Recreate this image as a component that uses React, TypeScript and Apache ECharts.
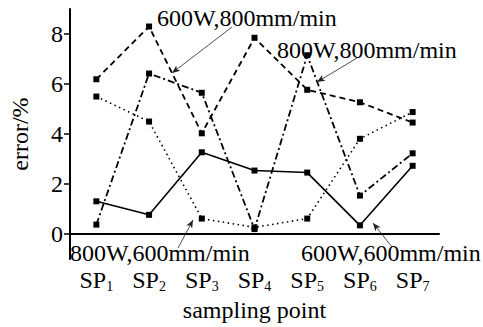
import React, { useEffect, useRef } from 'react';
import * as echarts from 'echarts';

const categories = ['1', '2', '3', '4', '5', '6', '7'];
const s600W800 = [6.19, 8.3, 4.03, 7.85, 5.77, 5.27, 4.46];
const s800W800 = [0.38, 6.42, 5.65, 0.2, 7.15, 1.54, 3.23];
const s800W600 = [5.5, 4.5, 0.62, 0.27, 0.62, 3.81, 4.88];
const s600W600 = [1.31, 0.77, 3.27, 2.54, 2.46, 0.35, 2.73];
const yTicks = [0, 2, 4, 6, 8];
const labels = ['600W,800mm/min', '800W,800mm/min', '800W,600mm/min', '600W,600mm/min'];

const FONT = 'Liberation Serif';
const FS = 24;

export default function App() {
  const ref = useRef<HTMLDivElement>(null);
  useEffect(() => {
    const chart = echarts.init(ref.current!, null, { renderer: 'svg' });
    const mk = (name: string, data: number[], type: any, width: number) => ({
      name,
      type: 'line',
      data,
      symbol: 'rect',
      symbolSize: 6,
      itemStyle: { color: '#000' },
      lineStyle: { color: '#000', width, type },
      emphasis: { disabled: true },
      silent: true,
    });
    const s1: any = mk(labels[0], s600W800, [6, 4], 1.8);
    s1.markLine = {
      silent: true,
      symbol: ['none', 'arrow'],
      symbolSize: [5, 8],
      label: { show: false },
      lineStyle: { type: 'solid', width: 0.8, color: '#222' },
      data: [
        [{ x: 232, y: 27 }, { x: 172, y: 73 }],
        [{ x: 357, y: 58 }, { x: 317, y: 82 }],
        [{ x: 178, y: 248 }, { x: 193, y: 220 }],
        [{ x: 392, y: 247 }, { x: 373, y: 223 }],
      ],
    };
    const textEl = (x: number, y: number, t: string) => ({
      type: 'text',
      x,
      y,
      silent: true,
      style: { text: t, fontFamily: FONT, fontSize: FS, fill: '#000', verticalAlign: 'middle', align: 'left' },
    });
    chart.setOption({
      animation: false,
      backgroundColor: '#fff',
      grid: { left: 67, right: 44, top: 9, bottom: 58 },
      xAxis: {
        type: 'category',
        data: categories,
        boundaryGap: true,
        name: 'sampling point',
        nameLocation: 'middle',
        nameGap: 31,
        nameTextStyle: { fontFamily: FONT, fontSize: FS, color: '#000' },
        axisLine: { lineStyle: { color: '#000', width: 2 } },
        axisTick: { alignWithLabel: true, length: 5, lineStyle: { color: '#000', width: 1.5 } },
        axisLabel: {
          margin: 8,
          interval: 0,
          fontFamily: FONT,
          fontSize: FS,
          formatter: (v: string) => `{m|SP}{s|${v}}`,
          rich: {
            m: { fontFamily: FONT, fontSize: FS, color: '#000', lineHeight: 26 },
            s: { fontFamily: FONT, fontSize: 14, color: '#000', verticalAlign: 'bottom', lineHeight: 14 },
          },
        },
      },
      yAxis: {
        type: 'value',
        min: -1,
        max: 9,
        name: 'error/%',
        nameLocation: 'middle',
        nameGap: 38,
        nameTextStyle: { fontFamily: FONT, fontSize: FS, color: '#000' },
        splitLine: { show: false },
        axisLine: { show: true, lineStyle: { color: '#000', width: 2 } },
        axisTick: { show: true, length: 6, customValues: yTicks, lineStyle: { color: '#000', width: 1.5 } },
        axisLabel: { customValues: yTicks, margin: 7, fontFamily: FONT, fontSize: FS, color: '#000' },
      },
      series: [
        s1,
        mk(labels[1], s800W800, [7, 3, 2, 3], 1.8),
        mk(labels[2], s800W600, [1.5, 3.5], 1.6),
        mk(labels[3], s600W600, 'solid', 1.6),
      ],
      graphic: [
        textEl(157, 18, labels[0]),
        textEl(277, 50, labels[1]),
        textEl(70, 253, labels[2]),
        textEl(301, 253, labels[3]),
      ],
    });
    return () => chart.dispose();
  }, []);
  return <div ref={ref} style={{ width: 483, height: 327, position: 'fixed', left: 0, top: 0 }} />;
}
